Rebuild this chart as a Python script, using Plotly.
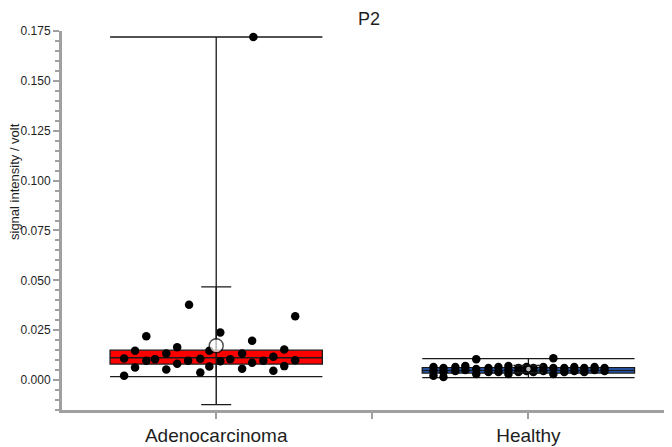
import plotly.graph_objects as go

# categories
groups = ["Adenocarcinoma", "Healthy"]

# individual measurements (volt) and their horizontal spread slot (category units)
adeno_values = [0.0108, 0.0022, 0.0147, 0.0063, 0.0220, 0.0097, 0.0105, 0.0133,
                0.0053, 0.0165, 0.0082, 0.0097, 0.0378, 0.0107, 0.0038, 0.0147,
                0.0068, 0.0238, 0.0095, 0.0105, 0.0133, 0.0057, 0.0197, 0.0087,
                0.0097, 0.0117, 0.0047, 0.0153, 0.0070, 0.0100, 0.0320, 0.1720]
adeno_jitter = [-0.295, -0.295, -0.26, -0.26, -0.224, -0.224, -0.196, -0.16,
                -0.16, -0.125, -0.125, -0.09, -0.087, -0.051, -0.051, -0.022,
                -0.022, 0.013, 0.013, 0.045, 0.083, 0.083, 0.115, 0.115,
                0.151, 0.183, 0.183, 0.218, 0.218, 0.253, 0.253, 0.119]

healthy_values = [0.0065, 0.0045, 0.0022, 0.0060, 0.0040, 0.0065, 0.0045, 0.0070,
                  0.0050, 0.0105, 0.0055, 0.0030, 0.0060, 0.0040, 0.0065, 0.0040,
                  0.0070, 0.0050, 0.0030, 0.0060, 0.0040, 0.0065, 0.0045, 0.0060,
                  0.0040, 0.0065, 0.0045, 0.0110, 0.0060, 0.0030, 0.0060, 0.0040,
                  0.0065, 0.0045, 0.0060, 0.0040, 0.0065, 0.0050, 0.0060, 0.0045,
                  0.0015]
healthy_jitter = [-0.304, -0.304, -0.304, -0.272, -0.272, -0.234, -0.234, -0.202,
                  -0.202, -0.167, -0.167, -0.167, -0.128, -0.128, -0.096, -0.096,
                  -0.064, -0.064, -0.064, -0.032, -0.032, -0.006, -0.006, 0.016,
                  0.016, 0.048, 0.048, 0.08, 0.08, 0.08, 0.115, 0.115,
                  0.147, 0.147, 0.179, 0.179, 0.212, 0.212, 0.244, 0.244,
                  -0.272]

# summary statistics
box_q1 = [0.0080, 0.0035]
box_median = [0.0112, 0.0048]
box_q3 = [0.0150, 0.0062]
box_min = [0.0017, 0.0012]
box_max = [0.1720, 0.0108]
group_mean = [0.0172, 0.0055]
group_sd = [0.0295, 0.0018]

box_fill = ["#ff0000", "#2a62c4"]
font = "Arial, Liberation Sans, sans-serif"
axis_grey = "#a0a0a0"
text_col = "#1e1e1e"

# the page puts the figure 8px in from the top-left, so the figure is sized to fit
W, H = 664, 439
L, T, B = 54, 23, 37
plot_h = H - T - B

fig = go.Figure()

for i, g in enumerate(groups):
    fig.add_trace(go.Box(
        x=[i], q1=[box_q1[i]], median=[box_median[i]], q3=[box_q3[i]],
        lowerfence=[box_min[i]], upperfence=[box_max[i]],
        width=0.68, whiskerwidth=1, boxpoints=False,
        fillcolor=box_fill[i], line=dict(color="#1a1a1a", width=1.3),
        name=g, hoverinfo="skip"
    ))

pts = [(adeno_values, adeno_jitter, 0), (healthy_values, healthy_jitter, 1)]
for vals, jit, pos in pts:
    fig.add_trace(go.Scatter(
        x=[pos + j for j in jit], y=vals, mode="markers",
        marker=dict(color="black", size=8.5, line=dict(width=0)),
        hoverinfo="y"
    ))

# mean +- SD
fig.add_trace(go.Scatter(
    x=[0, 1], y=group_mean, mode="markers",
    marker=dict(symbol="circle", size=[14, 6], color="white",
                line=dict(color="black", width=1.4)),
    error_y=dict(type="data", array=group_sd, width=15, thickness=1.4, color="#1a1a1a"),
))

fig.update_layout(
    width=W, height=H,
    margin=dict(l=L, r=0, t=T, b=B),
    paper_bgcolor="white", plot_bgcolor="white",
    showlegend=False,
    font=dict(family=font, color=text_col, size=12),
    title=dict(text="P2", x=361 / W, xanchor="center", y=1 - 11 / H, yanchor="middle",
               font=dict(size=18, color=text_col)),
    annotations=[dict(
        text="signal intensity / volt", textangle=-90,
        xref="paper", yref="paper", x=(7 - L) / (W - L), y=(H - B - 174) / plot_h,
        xanchor="center", yanchor="middle", showarrow=False,
        font=dict(size=13, color=text_col),
    )],
)

fig.update_xaxes(
    range=[-0.494, 1.46], tickvals=[-0.5, 0, 0.5, 1], ticktext=["", groups[0], "", groups[1]],
    showline=True, linecolor=axis_grey, linewidth=3, ticks="outside",
    tickcolor=axis_grey, tickwidth=2, ticklen=6, showgrid=False, zeroline=False,
    tickfont=dict(size=19, color=text_col), automargin=False,
)
fig.update_yaxes(
    range=[-0.015, 0.175], tickvals=[0, 0.025, 0.05, 0.075, 0.1, 0.125, 0.15, 0.175],
    tickformat=".3f", showline=True, linecolor=axis_grey, linewidth=3,
    ticks="outside", tickcolor=axis_grey, tickwidth=2, ticklen=6,
    minor=dict(dtick=0.005, tick0=0, ticks="outside", ticklen=4, tickwidth=2, tickcolor=axis_grey),
    showgrid=False, zeroline=False, automargin=False,
    tickfont=dict(size=12, color=text_col),
)

fig.write_html("out.html")
